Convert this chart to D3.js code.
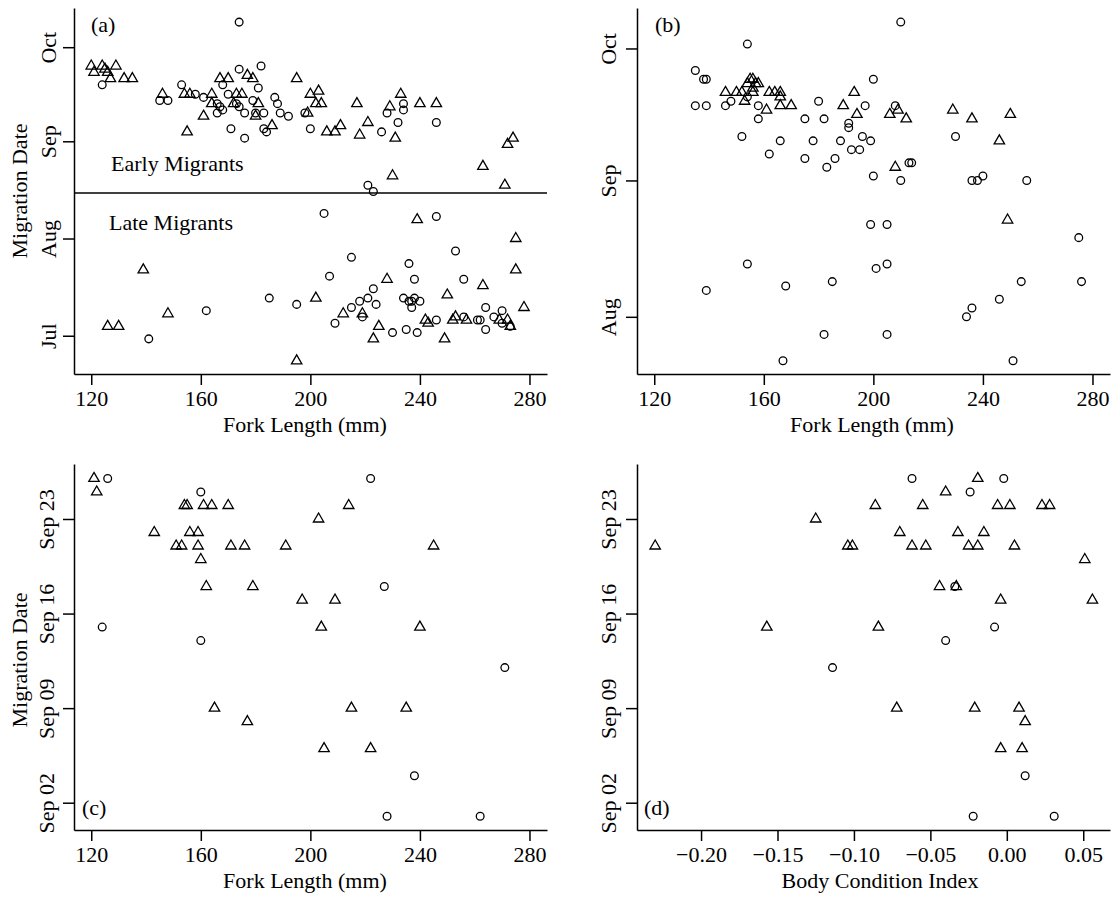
<!DOCTYPE html>
<html>
<head>
<meta charset="utf-8">
<script src="https://cdn.jsdelivr.net/npm/d3@7"></script>
<style>
body { margin: 0; background: #fff; }
svg text { font-family: "Liberation Serif", "Times New Roman", serif; fill: #000; }
</style>
</head>
<body>
<script>
// ---- data: [fork length (mm) or body condition index, "MM-DD" migration date] ----
var aCircles = [[174,"10-09"],[174,"09-24"],[182,"09-25"],[124,"09-19"],[153,"09-19"],[145,"09-14"],[148,"09-14"],[158,"09-16"],[161,"09-15"],[168,"09-19"],[170,"09-16"],[166,"09-13"],[167,"09-12"],[166,"09-10"],[168,"09-11"],[173,"09-13"],[174,"09-12"],[176,"09-10"],[179,"09-14"],[181,"09-18"],[180,"09-10"],[183,"09-10"],[187,"09-15"],[188,"09-13"],[189,"09-10"],[192,"09-09"],[171,"09-05"],[176,"09-02"],[183,"09-05"],[184,"09-04"],[198,"09-10"],[200,"09-05"],[228,"09-10"],[234,"09-13"],[234,"09-11"],[232,"09-07"],[226,"09-04"],[246,"09-07"],[221,"08-18"],[223,"08-16"],
	[205,"08-09"],[246,"08-08"],[253,"07-28"],[215,"07-26"],[236,"07-24"],[207,"07-20"],[238,"07-19"],[256,"07-19"],[223,"07-16"],[185,"07-13"],[234,"07-13"],[236,"07-12"],[237,"07-12"],[238,"07-13"],[240,"07-12"],[218,"07-12"],[221,"07-13"],[195,"07-11"],[215,"07-10"],[224,"07-11"],[237,"07-10"],[264,"07-10"],[267,"07-07"],[270,"07-09"],[162,"07-09"],[209,"07-05"],[219,"07-07"],[246,"07-06"],[256,"07-07"],[261,"07-06"],[262,"07-06"],[270,"07-05"],[273,"07-04"],[235,"07-03"],[230,"07-02"],[239,"07-02"],[264,"07-03"],[141,"06-30"]];
var aTriangles = [[120,"09-25"],[121,"09-23"],[124,"09-25"],[125,"09-24"],[126,"09-23"],[129,"09-25"],[127,"09-21"],[132,"09-21"],[135,"09-21"],[146,"09-16"],[154,"09-16"],[156,"09-16"],[155,"09-04"],[161,"09-09"],[164,"09-16"],[164,"09-13"],[167,"09-21"],[170,"09-21"],[172,"09-13"],[173,"09-16"],[175,"09-16"],[177,"09-22"],[179,"09-21"],[181,"09-13"],[180,"09-09"],[186,"09-06"],[195,"09-21"],[200,"09-16"],[203,"09-17"],[202,"09-13"],[204,"09-13"],[199,"09-10"],[206,"09-04"],[209,"09-04"],[211,"09-06"],[217,"09-13"],[221,"09-07"],[218,"09-03"],[229,"09-12"],[233,"09-16"],[231,"09-02"],[230,"08-21"],[240,"09-13"],[246,"09-13"],[263,"08-24"],[271,"08-18"],[272,"08-31"],[274,"09-02"],
	[239,"08-07"],[275,"08-01"],[275,"07-22"],[139,"07-22"],[228,"07-19"],[263,"07-17"],[202,"07-13"],[250,"07-14"],[278,"07-10"],[148,"07-08"],[212,"07-08"],[219,"07-08"],[242,"07-06"],[243,"07-05"],[253,"07-07"],[252,"07-06"],[257,"07-06"],[269,"07-06"],[272,"07-06"],[273,"07-04"],[126,"07-04"],[130,"07-04"],[225,"07-04"],[223,"06-30"],[249,"06-30"],[195,"06-23"]];

var bCircles = [[210,"10-07"],[154,"10-02"],[135,"09-26"],[138,"09-24"],[139,"09-24"],[200,"09-24"],[135,"09-18"],[139,"09-18"],[146,"09-18"],[148,"09-19"],[154,"09-20"],[158,"09-18"],[158,"09-15"],[180,"09-19"],[175,"09-15"],[182,"09-15"],[197,"09-18"],[208,"09-18"],[191,"09-14"],[191,"09-13"],[152,"09-11"],[166,"09-10"],[178,"09-10"],[188,"09-10"],[196,"09-11"],[199,"09-10"],[192,"09-08"],[195,"09-08"],[162,"09-07"],[175,"09-06"],[186,"09-06"],[183,"09-04"],[230,"09-11"],[213,"09-05"],[214,"09-05"],[200,"09-02"],[210,"09-01"],[236,"09-01"],[238,"09-01"],[240,"09-02"],[256,"09-01"],
	[199,"08-22"],[205,"08-22"],[275,"08-19"],[154,"08-13"],[205,"08-13"],[201,"08-12"],[139,"08-07"],[168,"08-08"],[185,"08-09"],[254,"08-09"],[276,"08-09"],[246,"08-05"],[236,"08-03"],[234,"08-01"],[182,"07-28"],[205,"07-28"],[167,"07-22"],[251,"07-22"]];
var bTriangles = [[155,"09-24"],[156,"09-24"],[157,"09-23"],[158,"09-23"],[154,"09-23"],[156,"09-22"],[152,"09-21"],[150,"09-21"],[156,"09-21"],[146,"09-21"],[153,"09-19"],[162,"09-21"],[164,"09-21"],[166,"09-21"],[166,"09-20"],[166,"09-18"],[161,"09-17"],[170,"09-18"],[189,"09-18"],[193,"09-21"],[194,"09-16"],[206,"09-16"],[209,"09-17"],[212,"09-15"],[208,"09-04"],[229,"09-17"],[236,"09-15"],[250,"09-16"],[246,"09-10"],[249,"08-23"]];

var cCircles = [[126,"09-26"],[160,"09-25"],[222,"09-26"],[227,"09-18"],[124,"09-15"],[160,"09-14"],[271,"09-12"],[238,"09-04"],[228,"09-01"],[262,"09-01"]];
var cTriangles = [[121,"09-26"],[122,"09-25"],[143,"09-22"],[154,"09-24"],[155,"09-24"],[161,"09-24"],[164,"09-24"],[170,"09-24"],[156,"09-22"],[159,"09-22"],[151,"09-21"],[153,"09-21"],[159,"09-21"],[171,"09-21"],[176,"09-21"],[191,"09-21"],[245,"09-21"],[203,"09-23"],[214,"09-24"],[160,"09-20"],[162,"09-18"],[179,"09-18"],[197,"09-17"],[209,"09-17"],[204,"09-15"],[240,"09-15"],[165,"09-09"],[177,"09-08"],[215,"09-09"],[235,"09-09"],[205,"09-06"],[222,"09-06"]];

var dCircles = [[-0.062,"09-26"],[-0.002,"09-26"],[-0.024,"09-25"],[-0.034,"09-18"],[-0.008,"09-15"],[-0.040,"09-14"],[-0.114,"09-12"],[0.012,"09-04"],[-0.022,"09-01"],[0.031,"09-01"]];
var dTriangles = [[-0.230,"09-21"],[-0.125,"09-23"],[-0.086,"09-24"],[-0.055,"09-24"],[-0.040,"09-25"],[-0.019,"09-26"],[-0.006,"09-24"],[0.002,"09-24"],[0.023,"09-24"],[0.028,"09-24"],[-0.070,"09-22"],[-0.032,"09-22"],[-0.015,"09-22"],[-0.104,"09-21"],[-0.101,"09-21"],[-0.062,"09-21"],[-0.053,"09-21"],[-0.025,"09-21"],[-0.019,"09-21"],[0.005,"09-21"],[0.051,"09-20"],[-0.044,"09-18"],[-0.033,"09-18"],[-0.004,"09-17"],[0.056,"09-17"],[-0.157,"09-15"],[-0.084,"09-15"],[-0.072,"09-09"],[-0.021,"09-09"],[0.008,"09-09"],[0.012,"09-08"],[-0.004,"09-06"],[0.010,"09-06"]];

// ticks
var forkTicks = [120, 160, 200, 240, 280];
var bciTicks = [-0.20, -0.15, -0.10, -0.05, 0.00, 0.05];
var monthTicksA = ["07-01", "08-01", "09-01", "10-01"];
var monthTicksB = ["08-01", "09-01", "10-01"];
var weekTicks = ["09-02", "09-09", "09-16", "09-23"];
var earlyLateSplit = "08-15"; // line sits half a day after this date

// ---- helpers ----
function ParseDate(s) {
	return new Date(Date.UTC(2010, +s.slice(0, 2) - 1, +s.slice(3, 5)));
}
function DayOfYear(n) {
	return new Date(Date.UTC(2010, 0, 1) + (n - 1) * 864e5);
}

var width = 1111, height = 898;
var svg = d3.select("body").append("svg")
	.attr("width", width)
	.attr("height", height);
svg.append("rect").attr("width", width).attr("height", height).attr("fill", "white");

var circleSym = d3.symbol().type(d3.symbolCircle).size(47)();
var triangleSym = d3.symbol().type(d3.symbolTriangle).size(47)();

// Draws one scatter panel
function DrawPanel(p) {
	var x = d3.scaleLinear().domain(p.xDomain).range([p.left, p.right]);
	var y = d3.scaleUtc()
		.domain([DayOfYear(p.yDomain[0]), DayOfYear(p.yDomain[1])])
		.range([p.bottom, p.top]);
	var g = svg.append("g");

	// x axis
	var xAxis = g.append("g")
		.attr("transform", "translate(0," + p.bottom + ")")
		.call(d3.axisBottom(x).tickValues(p.xTicks).tickFormat(p.xFormat)
			.tickSizeInner(11).tickSizeOuter(0));
	xAxis.selectAll("text").attr("y", 32).attr("dy", 0).style("font-size", "22px");

	// y axis with rotated labels
	var yAxis = g.append("g")
		.attr("transform", "translate(" + p.left + ",0)")
		.call(d3.axisLeft(y).tickValues(p.yTicks.map(ParseDate))
			.tickFormat(d3.utcFormat(p.yFormat)).tickSizeInner(11).tickSizeOuter(0));
	yAxis.selectAll("text")
		.attr("x", 0).attr("y", -p.yLabelGap).attr("dy", 0)
		.attr("text-anchor", "middle")
		.attr("transform", "rotate(-90)")
		.style("font-size", "22px");

	g.selectAll(".domain, .tick line").attr("stroke", "#000").attr("stroke-width", 1.5);
	g.selectAll(".tick text").attr("fill", "#000");

	// markers
	g.selectAll(".circ").data(p.circles).enter().append("path")
		.attr("d", circleSym)
		.attr("transform", function(d) { return "translate(" + x(d[0]) + "," + y(ParseDate(d[1])) + ")"; })
		.attr("fill", "none").attr("stroke", "#000").attr("stroke-width", 1.3);
	g.selectAll(".tri").data(p.triangles).enter().append("path")
		.attr("d", triangleSym)
		.attr("transform", function(d) { return "translate(" + x(d[0]) + "," + y(ParseDate(d[1])) + ")"; })
		.attr("fill", "none").attr("stroke", "#000").attr("stroke-width", 1.3);

	// panel tag
	g.append("text").attr("x", p.left + p.tag[1]).attr("y", p.tag[2])
		.style("font-size", "22px").text(p.tag[0]);

	// axis titles
	g.append("text")
		.attr("x", p.xTitle[1]).attr("y", p.bottom + 58)
		.attr("text-anchor", "middle").style("font-size", "22px")
		.text(p.xTitle[0]);
	if (p.yTitle) {
		g.append("text")
			.attr("transform", "translate(27," + p.yTitle[1] + ") rotate(-90)")
			.attr("text-anchor", "middle").style("font-size", "22px")
			.text(p.yTitle[0]);
	}

	// early / late split
	if (p.split) {
		var splitDate = new Date(ParseDate(p.split).getTime() + 432e5);
		g.append("line")
			.attr("x1", p.left).attr("x2", p.right)
			.attr("y1", y(splitDate)).attr("y2", y(splitDate))
			.attr("stroke", "#000").attr("stroke-width", 1.5);
		g.append("text").attr("x", 111).attr("y", y(splitDate) - 22)
			.style("font-size", "22px").text("Early Migrants");
		g.append("text").attr("x", 109).attr("y", y(splitDate) + 37)
			.style("font-size", "22px").text("Late Migrants");
	}
}

var forkFormat = d3.format("d");
var bciFormat = d3.format(".2f");

DrawPanel({left: 74, right: 547, top: 8, bottom: 374,
	xDomain: [113.7, 286.4], yDomain: [169.8, 286.5],
	xTicks: forkTicks, xFormat: forkFormat, yTicks: monthTicksA, yFormat: "%b", yLabelGap: 18,
	circles: aCircles, triangles: aTriangles, tag: ["(a)", 17, 32],
	xTitle: ["Fork Length (mm)", 305], yTitle: ["Migration Date", 191], split: earlyLateSplit});

DrawPanel({left: 637, right: 1110, top: 8, bottom: 374,
	xDomain: [113.7, 286.4], yDomain: [200.0, 283.2],
	xTicks: forkTicks, xFormat: forkFormat, yTicks: monthTicksB, yFormat: "%b", yLabelGap: 21,
	circles: bCircles, triangles: bTriangles, tag: ["(b)", 18, 32],
	xTitle: ["Fork Length (mm)", 872]});

DrawPanel({left: 74, right: 547, top: 464, bottom: 830,
	xDomain: [113.7, 286.4], yDomain: [242.98, 270.07],
	xTicks: forkTicks, xFormat: forkFormat, yTicks: weekTicks, yFormat: "%b %d", yLabelGap: 20,
	circles: cCircles, triangles: cTriangles, tag: ["(c)", 8, 815],
	xTitle: ["Fork Length (mm)", 305], yTitle: ["Migration Date", 660]});

DrawPanel({left: 637, right: 1110, top: 464, bottom: 830,
	xDomain: [-0.2419, 0.0675], yDomain: [242.98, 270.07],
	xTicks: bciTicks, xFormat: bciFormat, yTicks: weekTicks, yFormat: "%b %d", yLabelGap: 21,
	circles: dCircles, triangles: dTriangles, tag: ["(d)", 7, 815],
	xTitle: ["Body Condition Index", 880]});
</script>
</body>
</html>
